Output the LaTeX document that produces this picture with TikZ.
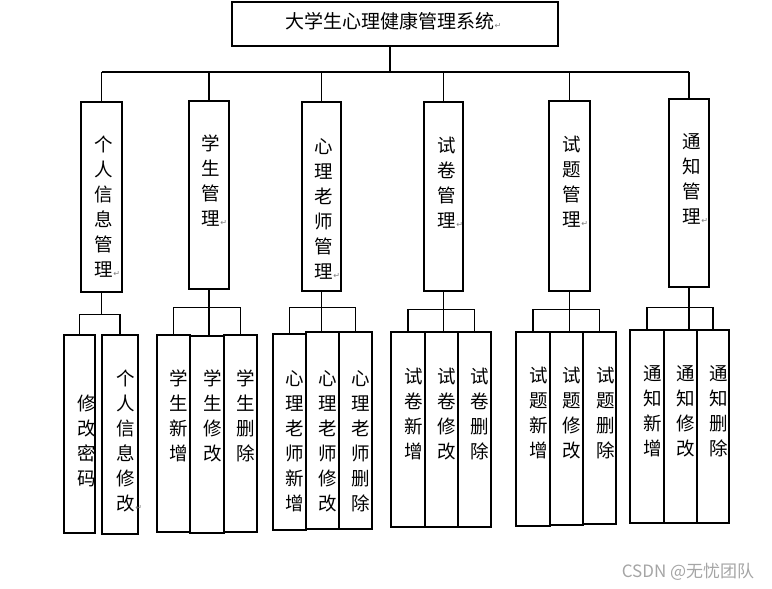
\documentclass[tikz,border=0pt]{standalone}
\usepackage{fontspec}
\usetikzlibrary{calc}
\newfontfamily\cjk{Noto Sans CJK SC}
\newfontfamily\retfont{DejaVu Sans}
\definecolor{markgray}{RGB}{125,125,125}
\definecolor{wmgray}{RGB}{165,165,165}
\newcommand{\ret}{\rlap{\retfont\fontsize{8}{8}\selectfont\textcolor{markgray}{↵}}}

\begin{document}
\begin{tikzpicture}[x=1pt,y=-1pt,
  box/.style={draw,line width=1.1pt,inner sep=0pt},
  vtext/.style={anchor=north,align=center,inner sep=0pt,font=\cjk\fontsize{18.5}{25}\selectfont},
  link/.style={line width=1.1pt}]
\useasboundingbox (0,0) rectangle (772,589);
% top
\node[box,minimum width=326pt,minimum height=44pt] (sys) at (395,24) {};
\node[inner sep=0pt,font=\cjk\fontsize{19}{20}\selectfont] (title) at (390,21) {大学生心理健康管理系统\ret};
% level 1
\node[box,minimum width=41pt,minimum height=190pt] (p1) at (101.5,197) {};
\node[box,minimum width=40pt,minimum height=188pt] (p2) at (209,195) {};
\node[box,minimum width=39pt,minimum height=189pt] (p3) at (321.5,196.5) {};
\node[box,minimum width=39pt,minimum height=189pt] (p4) at (443.5,196.5) {};
\node[box,minimum width=41pt,minimum height=190pt] (p5) at (569.5,196) {};
\node[box,minimum width=40pt,minimum height=188pt] (p6) at (689,193) {};
\node[vtext] (t1) at (104,136) {个\\人\\信\\息\\管\\理\ret};
\node[vtext] (t2) at (211,135) {学\\生\\管\\理\ret};
\node[vtext] (t3) at (324,138) {心\\理\\老\\师\\管\\理\ret};
\node[vtext] (t4) at (447,137) {试\\卷\\管\\理\ret};
\node[vtext] (t5) at (572,136) {试\\题\\管\\理\ret};
\node[vtext] (t6) at (692,133) {通\\知\\管\\理\ret};
% level 2
\node[box,minimum width=31pt,minimum height=198pt] (a1) at (79.5,434) {};
\node[box,minimum width=36pt,minimum height=199pt] (a2) at (120,434.5) {};
\node[box,minimum width=33pt,minimum height=197pt] (b1) at (173.5,433.5) {};
\node[box,minimum width=34pt,minimum height=197pt] (b2) at (207,434.5) {};
\node[box,minimum width=33pt,minimum height=197pt] (b3) at (240.5,433.5) {};
\node[box,minimum width=33pt,minimum height=196pt] (c1) at (289.5,432) {};
\node[box,minimum width=33pt,minimum height=197pt] (c2) at (322.5,430.5) {};
\node[box,minimum width=33pt,minimum height=197pt] (c3) at (355.5,430.5) {};
\node[box,minimum width=34pt,minimum height=195pt] (d1) at (408,429.5) {};
\node[box,minimum width=33pt,minimum height=195pt] (d2) at (441.5,429.5) {};
\node[box,minimum width=33pt,minimum height=195pt] (d3) at (474.5,429.5) {};
\node[box,minimum width=34pt,minimum height=194pt] (e1) at (533,429) {};
\node[box,minimum width=33pt,minimum height=193pt] (e2) at (566.5,428.5) {};
\node[box,minimum width=33pt,minimum height=192pt] (e3) at (599.5,428) {};
\node[box,minimum width=34pt,minimum height=193pt] (f1) at (647,426.5) {};
\node[box,minimum width=33pt,minimum height=193pt] (f2) at (680.5,426.5) {};
\node[box,minimum width=32pt,minimum height=193pt] (f3) at (713,426.5) {};
\node[vtext] (ta1) at (87,395) {修\\改\\密\\码};
\node[vtext] (ta2) at (126,370) {个\\人\\信\\息\\修\\改\ret};
\node[vtext] (tb1) at (179,370) {学\\生\\新\\增};
\node[vtext] (tb2) at (213,370) {学\\生\\修\\改};
\node[vtext] (tb3) at (246,370) {学\\生\\删\\除};
\node[vtext] (tc1) at (295,370) {心\\理\\老\\师\\新\\增};
\node[vtext] (tc2) at (328,370) {心\\理\\老\\师\\修\\改};
\node[vtext] (tc3) at (361,370) {心\\理\\老\\师\\删\\除};
\node[vtext] (td1) at (414,368) {试\\卷\\新\\增};
\node[vtext] (td2) at (447,368) {试\\卷\\修\\改};
\node[vtext] (td3) at (480,368) {试\\卷\\删\\除};
\node[vtext] (te1) at (539,367) {试\\题\\新\\增};
\node[vtext] (te2) at (572,367) {试\\题\\修\\改};
\node[vtext] (te3) at (606,367) {试\\题\\删\\除};
\node[vtext] (tf1) at (653,365) {通\\知\\新\\增};
\node[vtext] (tf2) at (686,365) {通\\知\\修\\改};
\node[vtext] (tf3) at (719,365) {通\\知\\删\\除};
% connectors
\coordinate (bus) at (390,72);
\draw[link] ($(sys.south)+(-5,0)$) -- (bus);
\draw[link] (p1.north |- bus) -- (p6.north |- bus);
\foreach \p in {p1,p2,p3,p4,p5,p6}
  \draw[link] (\p.north |- bus) -- (\p.north);
\foreach \p/\l/\r/\d in {p1/a1/a2/22,p2/b1/b3/18,p3/c1/c3/16,p4/d1/d3/18,p5/e1/e3/18,p6/f1/f3/20}
  \draw[link] (\l.north) |- ($(\p.south)+(0,\d)$) -| (\r.north);
\draw[link] (p1.south) -- ++(0,22);
\foreach \p/\m in {p2/b2,p3/c2,p4/d2,p5/e2,p6/f2}
  \draw[link] (\p.south) -- (\p.south |- \m.north);
% watermark
\node[text=wmgray,inner sep=0pt,font=\cjk\fontsize{17}{18}\selectfont] (wm) at (688,572) {CSDN @无忧团队};
\end{tikzpicture}
\end{document}
